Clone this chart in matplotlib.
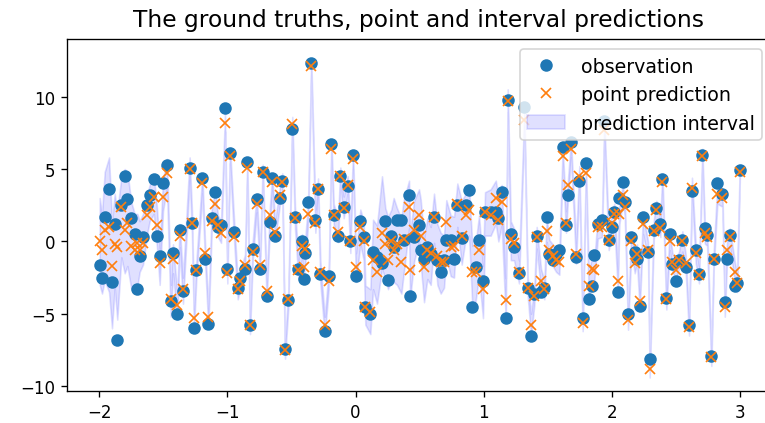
import numpy as np
import matplotlib
matplotlib.use("Agg")
import matplotlib.pyplot as plt

# x positions (sorted)
x = [-1.997, -1.979, -1.958, -1.924, -1.901, -1.880, -1.860, -1.828, -1.802, -1.781,
     -1.750, -1.724, -1.703, -1.685, -1.659, -1.625, -1.607, -1.575, -1.550, -1.529,
     -1.503, -1.472, -1.443, -1.425, -1.391, -1.373, -1.347, -1.295, -1.277, -1.261,
     -1.243,
     -1.196, -1.175, -1.149, -1.123, -1.097, -1.074, -1.050, -1.019, -1.001, -0.980,
     -0.946, -0.920, -0.902, -0.863, -0.845, -0.824, -0.803, -0.772, -0.746, -0.725,
     -0.694, -0.668, -0.650, -0.629, -0.590, -0.572, -0.551, -0.525, -0.494, -0.473,
     -0.447, -0.418, -0.406, -0.392,
     -0.371, -0.346, -0.314, -0.293, -0.275, -0.241, -0.210, -0.189, -0.171, -0.137,
     -0.119, -0.093, -0.062, -0.041, -0.020, 0.003, 0.037, 0.063, 0.076, 0.115,
     0.136, 0.167, 0.206, 0.232, 0.253, 0.279, 0.297, 0.323, 0.357, 0.374,
     0.417, 0.425,
     0.456, 0.495, 0.508, 0.534, 0.560, 0.586, 0.612, 0.638, 0.664, 0.690,
     0.708, 0.742, 0.768, 0.794, 0.828, 0.859, 0.885, 0.911, 0.937, 0.963,
     0.994, 1.010, 1.054, 1.094, 1.114, 1.140, 1.172, 1.187, 1.211, 1.236,
     1.275,
     1.317, 1.343, 1.369, 1.395, 1.413, 1.447, 1.473, 1.491, 1.512, 1.538,
     1.564, 1.590, 1.616, 1.642, 1.660, 1.681, 1.720, 1.746, 1.772, 1.798,
     1.819, 1.845, 1.863, 1.890, 1.923, 1.941, 1.975, 2.001, 2.019, 2.046,
     2.058,
     2.085, 2.100, 2.126, 2.152, 2.178, 2.196, 2.217, 2.243, 2.282, 2.295,
     2.327, 2.347, 2.378, 2.394, 2.425, 2.451, 2.472, 2.498, 2.524, 2.550,
     2.576, 2.602, 2.625, 2.654, 2.680, 2.706, 2.725, 2.743, 2.776, 2.795,
     2.823, 2.862, 2.881, 2.899, 2.920, 2.959, 2.977, 2.998]

# ground truths
obs = [-1.6, -2.5, 1.7, 3.6, -2.8, 1.2, -6.8, 2.5, 4.5, 2.9,
       1.6, 0.5, -3.3, -1.0, 0.3, 2.5, 3.2, 4.3, 0.4, -1.0,
       4.0, 5.3, -4.1, -0.8, -5.0, 0.8, -3.4, 5.1, 1.25, -6.0,
       -2.0,
       4.4, -1.2, -5.7, 1.6, 3.4, 1.0, 1.1, 9.2, -1.9, 6.1,
       0.65, -3.2, -2.5, -1.9, 5.5, -5.8, -0.5, 2.9, -1.9, 4.8,
       -3.75, 1.35, 4.4, 0.4, 3.0, 4.2, -7.45, -4.05, 7.75, 1.7,
       -1.9, 0.0, -2.6, -0.8,
       2.7, 12.35, 1.45, 3.6, -2.25, -6.2, -2.4, 6.7, 1.8, 0.35,
       4.5, 2.4, 3.8, 0.0, 6.0, -2.4, 1.4, 0.3, -4.5, -5.0,
       -0.7, -1.1, -1.5, 1.4, -2.65, 0.4, -0.4, 1.45, 1.45, 0.1,
       3.2, -3.8,
       0.3, 1.1, -0.6, -1.2, -0.4, -0.9, 1.7, -1.3, -2.1, -1.3,
       0.07, 0.1, -1.2, 2.5, 0.25, 2.5, 3.55, -4.5, -1.8, 0.07,
       -2.7, 2.0, 2.0, 2.0, 1.6, 3.4, -5.3, 9.8, 0.53, -0.4,
       -2.2,
       9.3, -3.2, -6.5, -3.6, 0.35, -3.5, -3.2, 1.7, -0.85, -1.3,
       -0.85, -0.6, 6.55, 1.1, 3.2, 6.9, -1.1, 4.2, -5.3, 5.4,
       -4.0, -3.05, -0.97, 1.2, 1.45, 8.3, 0.07, 1.0, 2.0, -3.5,
       3.0,
       4.1, 2.7, -5.0, 0.3, -0.75, -1.2, -4.45, 1.7, -0.75, -8.15,
       0.8, 2.3, 1.2, 4.3, -3.9, 0.5, -1.55, -2.7, -1.3, 0.07,
       -1.8, -5.8, 3.5, -0.6, -2.25, 6.0, 0.9, 0.42, -7.9, -1.2,
       4.05, 3.3, -4.2, -1.2, 0.42, -3.05, -2.9, 4.9]

# point predictions
pred = [0.0, -0.6, 0.8, 1.0, -1.7, -0.2, -0.4, 2.4, 0.8, 1.3,
        -0.3, -0.6, -0.1, -0.6, -0.1, 1.8, 2.4, 3.1, 1.1, -1.5,
        3.1, 4.7, -4.0, -1.2, -4.4, 0.4, -3.3, 5.0, 1.3, -5.3,
        -2.0,
        4.0, -0.8, -5.2, 1.4, 2.6, 1.1, 0.6, 8.2, -2.2, 5.9,
        0.3, -3.3, -2.7, -1.6, 5.1, -5.8, -0.7, 2.6, -1.6, 4.8,
        -3.4, 1.8, 4.1, 0.65, 3.2, 4.1, -7.5, -4.0, 8.1, 1.6,
        -2.0, -0.3, -1.8, -0.5,
        1.9, 12.1, 1.3, 3.65, -2.1, -5.8, -2.7, 6.4, 1.8, 0.65,
        4.5, 2.3, 3.9, 0.0, 5.7, -1.8, 1.0, 0.0, -4.55, -4.9,
        -1.3, -2.1, 0.6, -0.2, -1.3, 0.0, -0.6, -0.2, -1.4, 0.2,
        2.4, -2.0,
        0.8, 1.8, 0.4, -1.8, -0.6, -0.8, 1.7, -1.0, -1.4, -1.4,
        1.35, -0.4, -0.3, 2.6, 0.4, 1.8, 2.2, -2.1, -2.1, -0.6,
        -3.3, 2.0, 1.8, 3.0, 1.5, 2.7, -4.05, 9.7, 0.2, -0.1,
        -2.1,
        8.4, -3.2, -5.8, -3.75, 0.3, -2.7, -3.3, 0.75, -0.6, -1.0,
        -1.3, -1.4, 5.9, 1.3, 3.9, 6.4, -0.85, 4.5, -5.6, 4.75,
        -3.05, -1.9, -2.0, 1.0, 1.0, 7.7, 0.1, 1.3, 1.9, -2.7,
        1.9,
        3.2, 2.4, -5.4, 0.0, -1.5, -0.9, -4.1, 1.2, -0.6, -8.8,
        0.75, 2.2, 0.9, 4.1, -4.0, 0.0, -1.4, -2.0, -1.3, 0.0,
        -1.5, -5.9, 3.7, -0.8, -2.3, 5.9, 0.55, 0.3, -8.0, -1.2,
        3.3, 3.0, -4.5, -0.6, 0.3, -2.1, -2.9, 4.8]

# interval distances above / below the point prediction
up = [3.0, 2.5, 4.0, 4.8, 3.0, 3.5, 2.5, 2.0, 4.2, 3.5,
      3.0, 2.5, 2.0, 2.0, 2.0, 1.5, 1.5, 1.5, 1.2, 1.0,
      1.2, 1.0, 1.0, 1.0, 0.8, 0.8, 0.8, 0.8, 0.8, 0.6,
      0.6,
      0.6, 0.7, 0.6, 0.8, 0.9, 0.7, 0.8, 0.6, 0.7, 0.6,
      0.8, 0.6, 0.6, 0.7, 0.6, 0.5, 0.7, 0.7, 0.6, 0.5,
      0.6, 0.7, 0.5, 0.7, 0.6, 0.6, 0.5, 0.6, 0.5, 0.8,
      0.7, 0.8, 0.9, 0.8,
      0.8, 0.5, 0.9, 0.7, 0.7, 0.6, 0.7, 0.6, 0.8, 0.9,
      0.6, 0.8, 0.6, 0.9, 0.6, 1.0, 1.2, 1.4, 1.5, 1.6,
      2.8, 3.2, 3.9, 2.5, 3.0, 2.2, 3.6, 2.5, 3.0, 2.6,
      1.8, 2.5,
      2.0, 1.8, 2.5, 2.0, 2.2, 1.8, 1.6, 2.2, 2.0, 1.8,
      1.5, 2.2, 2.0, 1.4, 2.4, 1.5, 1.6, 1.8, 2.0, 2.4,
      1.6, 1.4, 1.8, 1.2, 1.6, 1.2, 1.5, 0.8, 1.2, 1.0,
      0.8,
      0.6, 0.7, 0.8, 0.6, 0.7, 0.8, 0.6, 0.9, 0.7, 0.8,
      0.7, 0.8, 0.6, 0.8, 0.7, 0.6, 0.8, 0.7, 0.6, 0.7,
      0.8, 0.9, 0.8, 0.7, 0.8, 0.6, 0.7, 0.6, 0.7, 0.8,
      0.9,
      0.6, 0.7, 0.6, 0.7, 0.6, 0.7, 0.6, 0.7, 0.6, 0.5,
      0.7, 0.6, 0.7, 0.6, 0.6, 0.7, 0.6, 0.8, 0.6, 0.7,
      0.6, 0.5, 0.7, 0.6, 0.6, 0.5, 0.7, 0.6, 0.5, 0.6,
      0.7, 0.6, 0.6, 0.7, 0.6, 0.7, 0.6, 0.5]

dn = [3.0, 3.0, 3.5, 4.5, 4.3, 3.0, 5.0, 3.5, 3.0, 3.0,
      3.0, 2.5, 3.0, 1.5, 1.5, 1.2, 1.0, 1.2, 1.5, 1.5,
      1.0, 1.0, 1.2, 1.0, 1.0, 0.8, 1.0, 0.8, 0.8, 0.8,
      0.6,
      0.7, 0.6, 0.8, 0.7, 0.6, 0.8, 0.7, 0.6, 0.7, 0.5,
      0.6, 0.7, 0.6, 0.6, 0.7, 0.6, 0.6, 0.6, 0.7, 0.5,
      0.7, 0.6, 0.6, 0.6, 0.6, 0.7, 0.6, 0.6, 0.6, 0.7,
      0.6, 0.9, 0.8, 0.9,
      0.7, 0.6, 0.7, 0.6, 0.8, 0.7, 0.6, 0.7, 0.6, 0.7,
      0.6, 0.7, 0.6, 0.8, 0.7, 1.0, 1.2, 1.3, 1.2, 1.5,
      2.0, 2.2, 2.5, 2.4, 2.0, 2.6, 2.2, 2.8, 2.2, 2.5,
      1.5, 2.0,
      2.2, 1.8, 2.0, 2.4, 2.0, 2.2, 1.8, 2.0, 2.2, 1.8,
      2.4, 2.0, 2.2, 1.6, 2.0, 1.6, 1.8, 2.4, 2.0, 1.8,
      2.0, 1.6, 1.4, 1.8, 1.5, 1.6, 1.4, 0.8, 1.5, 1.2,
      0.8,
      0.6, 0.6, 0.7, 0.6, 0.8, 0.7, 0.7, 0.8, 0.7, 0.7,
      0.8, 0.9, 0.7, 0.7, 0.6, 0.6, 0.7, 0.7, 0.6, 0.8,
      0.8, 0.9, 0.7, 0.8, 0.7, 0.6, 0.7, 0.6, 0.8, 0.7,
      0.7,
      0.6, 0.6, 0.7, 0.6, 0.7, 0.6, 0.6, 0.7, 0.6, 0.6,
      0.6, 0.7, 0.6, 0.6, 0.7, 0.6, 0.7, 0.6, 0.6, 0.7,
      0.6, 0.6, 0.6, 0.7, 0.6, 0.6, 0.7, 0.6, 0.6, 0.6,
      0.7, 0.6, 0.7, 0.6, 0.6, 0.7, 0.6, 0.6]

x = np.array(x)
pred = np.array(pred)
lower = pred - np.array(dn)
upper = pred + np.array(up)

fig = plt.figure(figsize=(6.375, 3.5333), dpi=120)
ax = fig.add_axes([0.0876, 0.0748, 0.9183, 0.8309])

ax.plot(x, obs, 'o', markersize=6.5, label='observation')
ax.plot(x, pred, 'x', markersize=6.5, label='point prediction')
ax.fill_between(x, lower, upper, alpha=0.12, color='b', label='prediction interval')

ax.set_xlim(-2.252, 3.23)
ax.set_ylim(-10.35, 13.98)
ax.set_xticks([-2, -1, 0, 1, 2, 3])
ax.set_yticks([-10, -5, 0, 5, 10])
ax.set_title('The ground truths, point and interval predictions', fontsize=14, pad=7.5)
ax.legend(loc='upper right', bbox_to_anchor=(0.9893, 0.9716), borderaxespad=0,
          fontsize=11.4)

fig.savefig('out.png', dpi=120)
